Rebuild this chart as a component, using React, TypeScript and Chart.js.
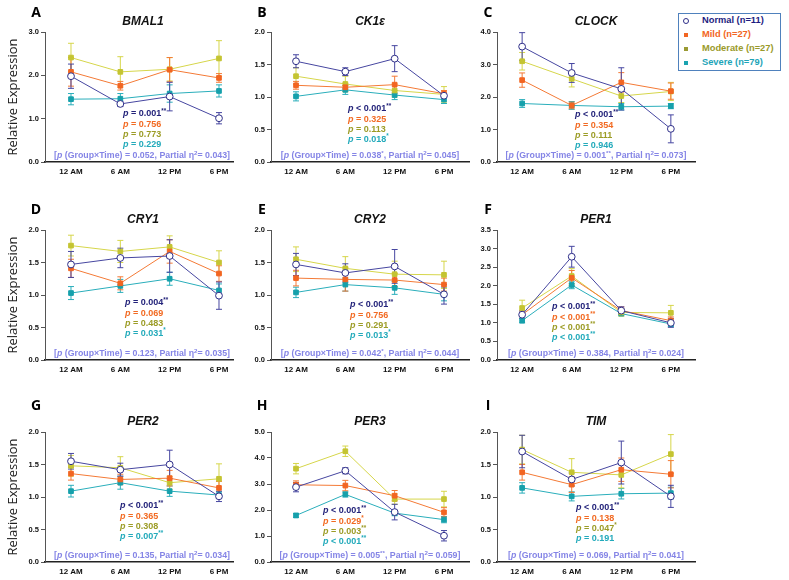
import React, { useEffect, useRef } from 'react';
import { Chart, registerables } from 'chart.js';
Chart.register(...registerables);

// ---------- data ----------
const categories = ['12 AM', '6 AM', '12 PM', '6 PM'];
const genes = ['BMAL1', 'CK1ε', 'CLOCK', 'CRY1', 'CRY2', 'PER1', 'PER2', 'PER3', 'TIM'];
const panelLetters = ['A', 'B', 'C', 'D', 'E', 'F', 'G', 'H', 'I'];
const yMax = [3, 2, 4, 2, 2, 3.5, 2, 5, 2];
const yStep = [1, 0.5, 1, 0.5, 0.5, 0.5, 0.5, 1, 0.5];

const normalMean = [
  [1.98, 1.34, 1.51, 1.01],
  [1.55, 1.39, 1.59, 1.02],
  [3.55, 2.74, 2.25, 1.02],
  [1.47, 1.57, 1.60, 0.99],
  [1.47, 1.34, 1.44, 1.01],
  [1.22, 2.78, 1.33, 1.00],
  [1.55, 1.42, 1.50, 1.01],
  [2.88, 3.51, 1.92, 1.01],
  [1.70, 1.27, 1.53, 1.01],
];
const normalErr = [
  [0.28, 0.06, 0.33, 0.13],
  [0.10, 0.06, 0.20, 0.03],
  [0.43, 0.29, 0.65, 0.43],
  [0.20, 0.15, 0.25, 0.21],
  [0.17, 0.14, 0.26, 0.15],
  [0.10, 0.28, 0.10, 0.12],
  [0.12, 0.10, 0.22, 0.08],
  [0.18, 0.12, 0.30, 0.20],
  [0.25, 0.10, 0.33, 0.17],
];
const mildMean = [
  [2.08, 1.76, 2.13, 1.94],
  [1.18, 1.15, 1.19, 1.05],
  [2.52, 1.74, 2.45, 2.18],
  [1.41, 1.18, 1.67, 1.33],
  [1.26, 1.24, 1.23, 1.16],
  [1.22, 2.21, 1.33, 1.06],
  [1.36, 1.27, 1.29, 1.14],
  [2.97, 2.94, 2.55, 1.91],
  [1.38, 1.19, 1.42, 1.35],
];
const mildErr = [
  [0.33, 0.10, 0.28, 0.10],
  [0.06, 0.06, 0.13, 0.05],
  [0.22, 0.10, 0.30, 0.25],
  [0.14, 0.10, 0.18, 0.12],
  [0.12, 0.18, 0.10, 0.10],
  [0.10, 0.20, 0.10, 0.10],
  [0.10, 0.08, 0.12, 0.10],
  [0.15, 0.20, 0.20, 0.18],
  [0.12, 0.12, 0.18, 0.21],
];
const moderateMean = [
  [2.41, 2.08, 2.14, 2.39],
  [1.32, 1.20, 1.10, 1.04],
  [3.10, 2.56, 2.03, 2.17],
  [1.76, 1.67, 1.74, 1.50],
  [1.55, 1.41, 1.32, 1.31],
  [1.40, 2.26, 1.28, 1.27],
  [1.48, 1.45, 1.22, 1.28],
  [3.59, 4.26, 2.42, 2.42],
  [1.73, 1.38, 1.34, 1.66],
];
const moderateErr = [
  [0.33, 0.35, 0.27, 0.41],
  [0.13, 0.12, 0.10, 0.12],
  [0.27, 0.25, 0.20, 0.28],
  [0.16, 0.17, 0.17, 0.18],
  [0.19, 0.18, 0.20, 0.21],
  [0.21, 0.20, 0.10, 0.20],
  [0.16, 0.17, 0.10, 0.23],
  [0.20, 0.20, 0.20, 0.30],
  [0.22, 0.21, 0.20, 0.30],
];
const severeMean = [
  [1.45, 1.46, 1.58, 1.64],
  [1.01, 1.11, 1.03, 0.96],
  [1.80, 1.74, 1.70, 1.72],
  [1.03, 1.14, 1.25, 1.07],
  [1.04, 1.16, 1.11, 1.01],
  [1.06, 2.02, 1.25, 0.97],
  [1.09, 1.22, 1.09, 1.03],
  [1.79, 2.60, 1.88, 1.63],
  [1.14, 1.01, 1.05, 1.06],
];
const severeErr = [
  [0.13, 0.12, 0.20, 0.14],
  [0.07, 0.07, 0.07, 0.06],
  [0.12, 0.12, 0.10, 0.08],
  [0.10, 0.10, 0.10, 0.10],
  [0.08, 0.10, 0.10, 0.10],
  [0.06, 0.10, 0.06, 0.07],
  [0.09, 0.10, 0.08, 0.05],
  [0.08, 0.10, 0.10, 0.12],
  [0.08, 0.07, 0.08, 0.09],
];

const pNormal = ['= 0.001**', '< 0.001**', '< 0.001**', '= 0.004**', '< 0.001**', '< 0.001**', '< 0.001**', '< 0.001**', '< 0.001**'];
const pMild = ['= 0.756', '= 0.325', '= 0.354', '= 0.069', '= 0.756', '< 0.001**', '= 0.365', '= 0.029*', '= 0.138'];
const pModerate = ['= 0.773', '= 0.113', '= 0.111', '= 0.483', '= 0.291', '< 0.001**', '= 0.308', '= 0.003**', '= 0.047*'];
const pSevere = ['= 0.229', '= 0.018*', '= 0.946', '= 0.031*', '= 0.013*', '< 0.001**', '= 0.007**', '< 0.001**', '= 0.191'];
const pInteraction = ['0.052', '0.038*', '0.001**', '0.123', '0.042*', '0.384', '0.135', '0.005**', '0.069'];
const partialEta = ['0.043', '0.045', '0.073', '0.035', '0.044', '0.024', '0.034', '0.059', '0.041'];

const legendLabels = ['Normal (n=11)', 'Mild (n=27)', 'Moderate (n=27)', 'Severe (n=79)'];

// ---------- styles / layout ----------
const FONT = '"Liberation Sans", Arial, sans-serif';
const series = [
  { mean: normalMean, err: normalErr, p: pNormal, line: '#4646a0', point: '#2e2e88', fill: '#ffffff', style: 'circle', radius: 3.4, text: '#23237a' },
  { mean: mildMean, err: mildErr, p: pMild, line: '#f47a36', point: '#f26522', fill: '#f26522', style: 'rect', radius: 3.3, text: '#f26a22' },
  { mean: moderateMean, err: moderateErr, p: pModerate, line: '#d6d64a', point: '#c4c432', fill: '#c4c432', style: 'rect', radius: 3.3, text: '#9c9c26' },
  { mean: severeMean, err: severeErr, p: pSevere, line: '#2aaebb', point: '#16a0ab', fill: '#16a0ab', style: 'rect', radius: 3.3, text: '#22aabb' },
];
const legendTextColors = ['#1c1c80', '#f26522', '#9a9a2a', '#1ca4b8'];
const legendMarkColors = ['#2e2e88', '#f26522', '#9a9a33', '#1aa3b0'];

const colLeft = [0, 226, 452];
const colWidth = [250, 260, 260];
const colXRange = [[-0.527, 3.284], [-0.507, 3.507], [-0.507, 3.487]];
const rowTop = [0, 198, 400];
const rowLetterY = [12, 209, 405];
const CANVAS_H = 180;
const PAD_TOP = 32;
const PAD_RIGHT = 17;
const X_H = 18;
const Y_W = 45;
const pAnchor = [[78, 82], [77, 77], [78, 83], [80, 73], [79, 75], [55, 77], [75, 74], [52, 79], [79, 76]];

type Seg = { t: string; it?: boolean; sup?: boolean };

function splitStars(s: string): Seg[] {
  const m = s.match(/^(.*?)(\*+)$/);
  if (m) return [{ t: m[1] }, { t: m[2], sup: true }];
  return [{ t: s }];
}

function drawRich(ctx: CanvasRenderingContext2D, segs: Seg[], x: number, y: number, align: string, size: number, color: string) {
  const fontFor = (s: Seg) => `${s.it ? 'italic ' : ''}bold ${s.sup ? size * 0.7 : size}px ${FONT}`;
  let total = 0;
  for (const s of segs) {
    ctx.font = fontFor(s);
    total += ctx.measureText(s.t).width;
  }
  let cx = align === 'center' ? x - total / 2 : x;
  ctx.save();
  ctx.fillStyle = color;
  ctx.textBaseline = 'middle';
  ctx.textAlign = 'left';
  for (const s of segs) {
    ctx.font = fontFor(s);
    ctx.fillText(s.t, cx, s.sup ? y - size * 0.35 : y);
    cx += ctx.measureText(s.t).width;
  }
  ctx.restore();
}

function Panel({ idx }: { idx: number }) {
  const ref = useRef<HTMLCanvasElement>(null);
  const col = idx % 3;
  const row = Math.floor(idx / 3);
  const W = colWidth[col];
  useEffect(() => {
    const overlay = {
      id: 'overlay' + idx,
      beforeDatasetsDraw(chart: any) {
        const ctx = chart.ctx;
        const xs = chart.scales.x;
        const ys = chart.scales.y;
        ctx.save();
        for (let d = series.length - 1; d >= 0; d--) {
          const s = series[d];
          ctx.strokeStyle = s.line;
          ctx.lineWidth = 1;
          s.mean[idx].forEach((v: number, i: number) => {
            const e = s.err[idx][i];
            const x = xs.getPixelForValue(i);
            const y1 = ys.getPixelForValue(v + e);
            const y2 = ys.getPixelForValue(v - e);
            ctx.beginPath();
            ctx.moveTo(x, y1);
            ctx.lineTo(x, y2);
            ctx.moveTo(x - 3, y1);
            ctx.lineTo(x + 3, y1);
            ctx.moveTo(x - 3, y2);
            ctx.lineTo(x + 3, y2);
            ctx.stroke();
          });
        }
        ctx.restore();
      },
      afterDraw(chart: any) {
        const ctx = chart.ctx;
        const a = chart.chartArea;
        const cxm = (a.left + a.right) / 2 + (col === 0 ? 4 : 0);
        // title
        ctx.save();
        ctx.font = `italic bold 12px ${FONT}`;
        ctx.fillStyle = '#111';
        ctx.textAlign = 'center';
        ctx.textBaseline = 'middle';
        ctx.fillText(genes[idx], cxm, a.top - 10);
        ctx.restore();
        // p values
        const [dx, dy] = pAnchor[idx];
        series.forEach((s, k) => {
          drawRich(ctx, [{ t: 'p', it: true }, ...splitStars(' ' + s.p[idx])], a.left + dx, a.top + dy + k * 10.3, 'left', 9, s.text);
        });
        // interaction text
        const segs: Seg[] = [
          { t: '[' }, { t: 'p', it: true }, { t: ' (Group×Time) = ' },
          ...splitStars(pInteraction[idx]),
          { t: ', Partial η' }, { t: '2', sup: true }, { t: '= ' + partialEta[idx] + ']' },
        ];
        drawRich(ctx, segs, (a.left + a.right) / 2 + (col === 0 ? 3 : 0), a.bottom - 6, 'center', 8.8, '#8585e6');
        // y axis label
        if (col === 0) {
          ctx.save();
          ctx.translate(13, (a.top + a.bottom) / 2);
          ctx.rotate(-Math.PI / 2);
          ctx.font = '13px "Open Sans", sans-serif';
          ctx.fillStyle = '#222';
          ctx.textAlign = 'center';
          ctx.textBaseline = 'middle';
          ctx.fillText('Relative Expression', 0, 0);
          ctx.restore();
        }
      },
    };
    const chart = new Chart(ref.current as HTMLCanvasElement, {
      type: 'line',
      data: {
        datasets: series.map((s) => ({
          data: s.mean[idx].map((v: number, i: number) => ({ x: i, y: v })),
          borderColor: s.line,
          backgroundColor: s.fill,
          borderWidth: 1,
          pointStyle: s.style,
          pointRadius: s.radius,
          pointBorderWidth: 1,
          pointBorderColor: s.point,
          pointBackgroundColor: s.fill,
          tension: 0,
        })),
      },
      options: {
        animation: false,
        responsive: false,
        devicePixelRatio: 1,
        layout: { padding: { top: PAD_TOP, right: PAD_RIGHT, left: 0, bottom: 0 } },
        plugins: { legend: { display: false }, tooltip: { enabled: false }, title: { display: false } },
        scales: {
          x: {
            type: 'linear',
            min: colXRange[col][0],
            max: colXRange[col][1],
            afterBuildTicks: (s: any) => { s.ticks = [0, 1, 2, 3].map((v) => ({ value: v })); },
            afterFit: (s: any) => { s.height = X_H; },
            grid: { display: false, drawTicks: false },
            border: { display: true, color: '#222', width: 1.5 },
            ticks: {
              callback: (v: any) => categories[v as number] ?? '',
              font: { family: FONT, size: 8, weight: 'bold' },
              color: '#111',
              padding: 5,
              maxRotation: 0,
              autoSkip: false,
            },
          },
          y: {
            min: 0,
            max: yMax[idx],
            afterFit: (s: any) => { s.width = Y_W; },
            grid: { display: true, drawOnChartArea: false, drawTicks: true, tickLength: 4, color: '#555' },
            border: { display: true, color: '#555', width: 1 },
            ticks: {
              stepSize: yStep[idx],
              callback: (v: any) => Number(v).toFixed(1),
              font: { family: FONT, size: 7.5, weight: 'bold' },
              color: '#111',
              padding: 2,
            },
          },
        },
      },
      plugins: [overlay],
    } as any);
    return () => chart.destroy();
  }, [idx]);
  return (
    <canvas
      ref={ref}
      width={W}
      height={CANVAS_H}
      style={{ position: 'absolute', left: colLeft[col], top: rowTop[row], width: W, height: CANVAS_H }}
    />
  );
}

export default function App() {
  return (
    <div style={{ position: 'absolute', left: 0, top: 0, width: 789, height: 580, background: '#fff', overflow: 'hidden' }}>
      {genes.map((g, i) => (
        <Panel key={g} idx={i} />
      ))}
      {panelLetters.map((L, i) => (
        <div
          key={L}
          style={{
            position: 'absolute',
            left: colLeft[i % 3] + Y_W - 9 - 10,
            width: 20,
            top: rowLetterY[Math.floor(i / 3)] - 10,
            height: 20,
            lineHeight: '20px',
            textAlign: 'center',
            font: 'bold 14px "Open Sans", sans-serif',
            color: '#000',
          }}
        >
          {L}
        </div>
      ))}
      <div style={{ position: 'absolute', left: 678, top: 13, width: 101, height: 56, border: '1px solid #4f81bd', background: '#fff' }}>
        {legendLabels.map((lab, k) => (
          <React.Fragment key={lab}>
            <div
              style={{
                position: 'absolute',
                left: k === 0 ? 4 : 5,
                top: 7 + k * 14 - (k === 0 ? 3 : 2),
                width: 4,
                height: 4,
                borderRadius: k === 0 ? '50%' : 0,
                border: k === 0 ? `1px solid ${legendMarkColors[0]}` : 'none',
                background: k === 0 ? '#fff' : legendMarkColors[k],
              }}
            />
            <div
              style={{
                position: 'absolute',
                left: 23,
                top: 7 + k * 14 - 6,
                height: 12,
                lineHeight: '12px',
                whiteSpace: 'nowrap',
                font: `bold 9.3px ${FONT}`,
                color: legendTextColors[k],
              }}
            >
              {lab}
            </div>
          </React.Fragment>
        ))}
      </div>
    </div>
  );
}
